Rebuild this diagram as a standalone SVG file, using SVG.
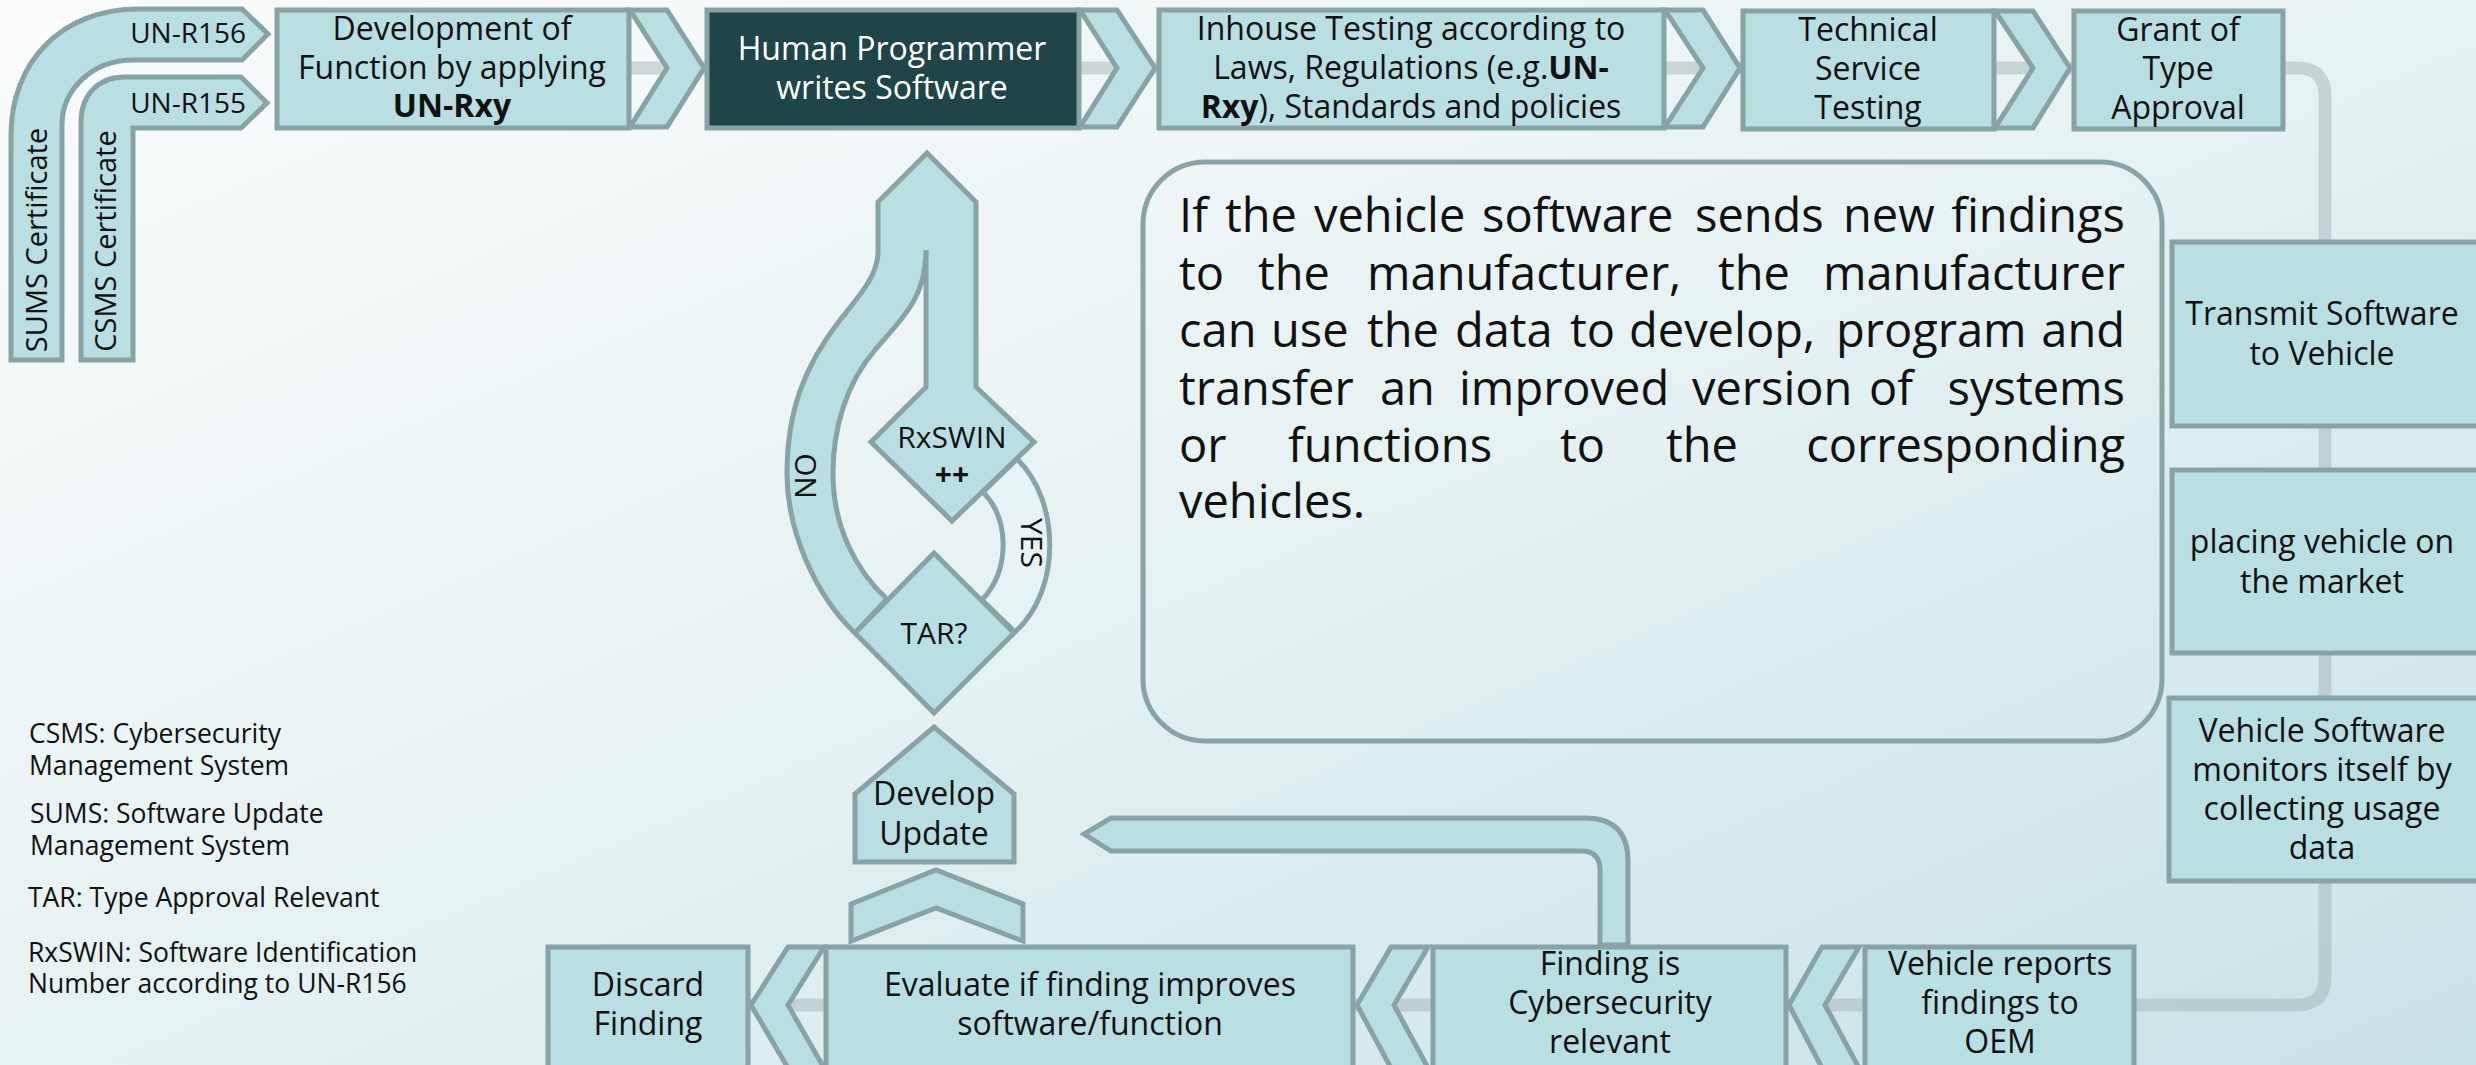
<svg xmlns="http://www.w3.org/2000/svg" width="2476" height="1065" viewBox="0 0 2476 1065">
  <defs>
    <linearGradient id="bg" x1="0" y1="0" x2="1" y2="1">
      <stop offset="0" stop-color="#fbfcfc"/>
      <stop offset="0.5" stop-color="#e6f1f2"/>
      <stop offset="1" stop-color="#c9e2e6"/>
    </linearGradient>
    <style>
      .n{fill:#b9dfe2;stroke:#87a3a6;stroke-width:5;stroke-linejoin:miter}
      .dk{fill:#1f4548;stroke:#87a3a6;stroke-width:5}
      .pale{fill:#e6f2f3;stroke:#87a3a6;stroke-width:5}
      .frame{fill:none;stroke:#87a3a6;stroke-width:5}
      .flow{fill:none;stroke:#a0afb2;stroke-opacity:0.45;stroke-width:13;stroke-linejoin:round}
      text{font-family:"Open Sans","Liberation Sans",sans-serif;fill:#111}
      .c{text-anchor:middle;font-size:32px}
      .r{text-anchor:middle;font-size:32px}
      .w{fill:#ffffff}
      .b{font-weight:bold}
      .lg{font-size:26.5px}
      .big{font-size:47px}
      .e{text-anchor:end}
    </style>
  </defs>

  <rect width="2476" height="1065" fill="url(#bg)"/>

  <!-- main flow line running behind the chevrons -->
  <g id="connectors">
    <path class="flow" d="M 630 68 L 2297 68 Q 2325 68 2325 96 L 2325 977 Q 2325 1005 2297 1005 L 548 1005"/>
  </g>

  <!-- certificates -->
  <g id="sums">
    <path class="n" d="M 11 360 L 11 135 C 11 62 62 9 138 9 L 242 9 L 268 34 L 242 60 L 133 60 C 92 60 62 90 62 125 L 62 360 Z"/>
    <text class="e" x="246" y="43" style="font-size:28px">UN-R156</text>
    <text transform="translate(47,240) rotate(-90)" style="font-size:29px;text-anchor:middle">SUMS Certificate</text>
  </g>
  <g id="csms">
    <path class="n" d="M 81 360 L 81 122 C 81 95 98 77 125 77 L 241 77 L 267 103 L 241 128 L 133 128 L 133 360 Z"/>
    <text class="e" x="246" y="113" style="font-size:28px">UN-R155</text>
    <text transform="translate(116,241) rotate(-90)" style="font-size:29px;text-anchor:middle">CSMS Certificate</text>
  </g>

  <!-- top row -->
  <g id="development">
    <rect class="n" x="277" y="10" width="352" height="118"/>
    <text class="c" x="452" y="40">Development of</text>
    <text class="c" x="452" y="79">Function by applying</text>
    <text class="c b" x="452" y="117">UN-Rxy</text>
  </g>
  <g id="chev-top-1"><polygon class="n" points="630,10 667,10 704,68 667,127 630,127 667,68"/></g>
  <g id="programmer">
    <rect class="dk" x="707" y="10" width="372" height="118"/>
    <text class="c w" x="892" y="60">Human Programmer</text>
    <text class="c w" x="892" y="99">writes Software</text>
  </g>
  <g id="chev-top-2"><polygon class="n" points="1080,10 1117,10 1155,68 1117,127 1080,127 1117,68"/></g>
  <g id="inhouse">
    <rect class="n" x="1159" y="10" width="505" height="118"/>
    <text class="c" x="1411" y="40">Inhouse Testing according to</text>
    <text class="c" x="1411" y="79">Laws, Regulations (e.g.<tspan class="b">UN-</tspan></text>
    <text class="c" x="1411" y="118"><tspan class="b">Rxy</tspan>), Standards and policies</text>
  </g>
  <g id="chev-top-3"><polygon class="n" points="1665,10 1703,10 1740,68 1703,127 1665,127 1703,68"/></g>
  <g id="technical">
    <rect class="n" x="1743" y="11" width="251" height="118"/>
    <text class="c" x="1868" y="41">Technical</text>
    <text class="c" x="1868" y="80">Service</text>
    <text class="c" x="1868" y="119">Testing</text>
  </g>
  <g id="chev-top-4"><polygon class="n" points="1995,11 2033,11 2070,68 2033,128 1995,128 2033,68"/></g>
  <g id="grant">
    <rect class="n" x="2074" y="11" width="209" height="118"/>
    <text class="c" x="2178" y="41">Grant of</text>
    <text class="c" x="2178" y="80">Type</text>
    <text class="c" x="2178" y="119">Approval</text>
  </g>

  <!-- right column -->
  <g id="transmit">
    <rect class="n" x="2172" y="242" width="330" height="184"/>
    <text class="r" x="2322" y="325">Transmit Software</text>
    <text class="r" x="2322" y="365">to Vehicle</text>
  </g>
  <g id="market">
    <rect class="n" x="2172" y="470" width="330" height="183"/>
    <text class="r" x="2322" y="553">placing vehicle on</text>
    <text class="r" x="2322" y="593">the market</text>
  </g>
  <g id="monitor">
    <rect class="n" x="2169" y="698" width="333" height="183"/>
    <text class="r" x="2322" y="742">Vehicle Software</text>
    <text class="r" x="2322" y="781">monitors itself by</text>
    <text class="r" x="2322" y="820">collecting usage</text>
    <text class="r" x="2322" y="859">data</text>
  </g>

  <!-- bottom row -->
  <g id="reports">
    <rect class="n" x="1865" y="947" width="269" height="130"/>
    <text class="c" x="2000" y="975">Vehicle reports</text>
    <text class="c" x="2000" y="1014">findings to</text>
    <text class="c" x="2000" y="1053">OEM</text>
  </g>
  <g id="chev-bot-3"><polygon class="n" points="1822,947 1859,947 1825,1005 1859,1068 1822,1068 1789,1005"/></g>
  <g id="relevant">
    <rect class="n" x="1433" y="947" width="353" height="130"/>
    <text class="c" x="1610" y="975">Finding is</text>
    <text class="c" x="1610" y="1014">Cybersecurity</text>
    <text class="c" x="1610" y="1053">relevant</text>
  </g>
  <g id="chev-bot-2"><polygon class="n" points="1391,947 1428,947 1394,1005 1428,1068 1391,1068 1357,1005"/></g>
  <g id="evaluate">
    <rect class="n" x="826" y="947" width="527" height="130"/>
    <text class="c" x="1090" y="996">Evaluate if finding improves</text>
    <text class="c" x="1090" y="1035">software/function</text>
  </g>
  <g id="chev-bot-1"><polygon class="n" points="788,947 824,947 788,1005 824,1068 788,1068 751,1005"/></g>
  <g id="discard">
    <rect class="n" x="548" y="947" width="200" height="130"/>
    <text class="c" x="648" y="996">Discard</text>
    <text class="c" x="648" y="1035">Finding</text>
  </g>

  <!-- feedback from finding to update development -->
  <g id="finding-to-update">
    <path class="n" d="M 1600 945 L 1600 870 Q 1600 851 1581 851 L 1111 851 L 1084 834 L 1111 818 L 1585 818 Q 1628 818 1628 861 L 1628 945 Z"/>
  </g>
  <g id="chev-up"><polygon class="n" points="851,904 936,870 1023,904 1023,941 936,908 851,941"/></g>
  <g id="develop-update">
    <polygon class="n" points="934,727 1014,794 1014,862 855,862 855,794"/>
    <text class="c" x="934" y="805">Develop</text>
    <text class="c" x="934" y="845">Update</text>
  </g>

  <!-- decision loop -->
  <g id="yes-branch">
    <path class="pale" d="M 1017 459 C 1060 500 1062 590 1015 632 L 982 600 C 1010 570 1010 520 983 492 Z"/>
    <text transform="translate(1021,543) rotate(90)" style="font-size:30px;text-anchor:middle">YES</text>
  </g>
  <g id="rxswin">
    <path class="n" d="M 927 153 L 976 202 L 976 387 L 1034 442 L 952 521 L 871 442 L 926 387 L 926 250 C 926 300 900 320 875 350 C 845 385 833 430 833 474 C 833 525 855 570 887 599 L 855 633 C 815 595 787 530 787 474 C 787 410 805 365 840 320 C 860 295 878 275 878 252 L 878 202 Z"/>
    <text x="952" y="448" style="font-size:30px;text-anchor:middle">RxSWIN</text>
    <text class="b" x="952" y="485" style="font-size:30px;text-anchor:middle">++</text>
    <text transform="translate(816,476) rotate(-90)" style="font-size:30px;text-anchor:middle">NO</text>
  </g>
  <g id="tar">
    <polygon class="n" points="934,553 1014,633 934,713 855,633"/>
    <text x="934" y="644" style="font-size:30px;text-anchor:middle">TAR?</text>
  </g>

  <!-- explanatory note -->
  <g id="note">
    <rect class="frame" x="1143" y="162" width="1019" height="579" rx="62"/>
    <text class="big" y="232"><tspan x="1179">If</tspan><tspan x="1225">the</tspan><tspan x="1314">vehicle</tspan><tspan x="1482">software</tspan><tspan x="1695">sends</tspan><tspan x="1843">new</tspan><tspan x="2125" class="e">findings</tspan></text>
    <text class="big" y="290"><tspan x="1179">to</tspan><tspan x="1258">the</tspan><tspan x="1367">manufacturer,</tspan><tspan x="1718">the</tspan><tspan x="2125" class="e">manufacturer</tspan></text>
    <text class="big" y="347"><tspan x="1179">can</tspan><tspan x="1271">use</tspan><tspan x="1367">the</tspan><tspan x="1455">data</tspan><tspan x="1570">to</tspan><tspan x="1629">develop,</tspan><tspan x="1836">program</tspan><tspan x="2125" class="e">and</tspan></text>
    <text class="big" y="405"><tspan x="1179">transfer</tspan><tspan x="1380">an</tspan><tspan x="1459">improved</tspan><tspan x="1692">version</tspan><tspan x="1869">of</tspan><tspan x="2125" class="e">systems</tspan></text>
    <text class="big" y="462"><tspan x="1179">or</tspan><tspan x="1288">functions</tspan><tspan x="1560">to</tspan><tspan x="1666">the</tspan><tspan x="2125" class="e">corresponding</tspan></text>
    <text class="big" x="1179" y="518">vehicles.</text>
  </g>

  <!-- abbreviations -->
  <g id="legend">
    <text class="lg" x="29" y="743">CSMS: Cybersecurity</text>
    <text class="lg" x="29" y="775">Management System</text>
    <text class="lg" x="30" y="823">SUMS: Software Update</text>
    <text class="lg" x="30" y="855">Management System</text>
    <text class="lg" x="28" y="907">TAR: Type Approval Relevant</text>
    <text class="lg" x="28" y="962">RxSWIN: Software Identification</text>
    <text class="lg" x="28" y="993">Number according to UN-R156</text>
  </g>
</svg>
